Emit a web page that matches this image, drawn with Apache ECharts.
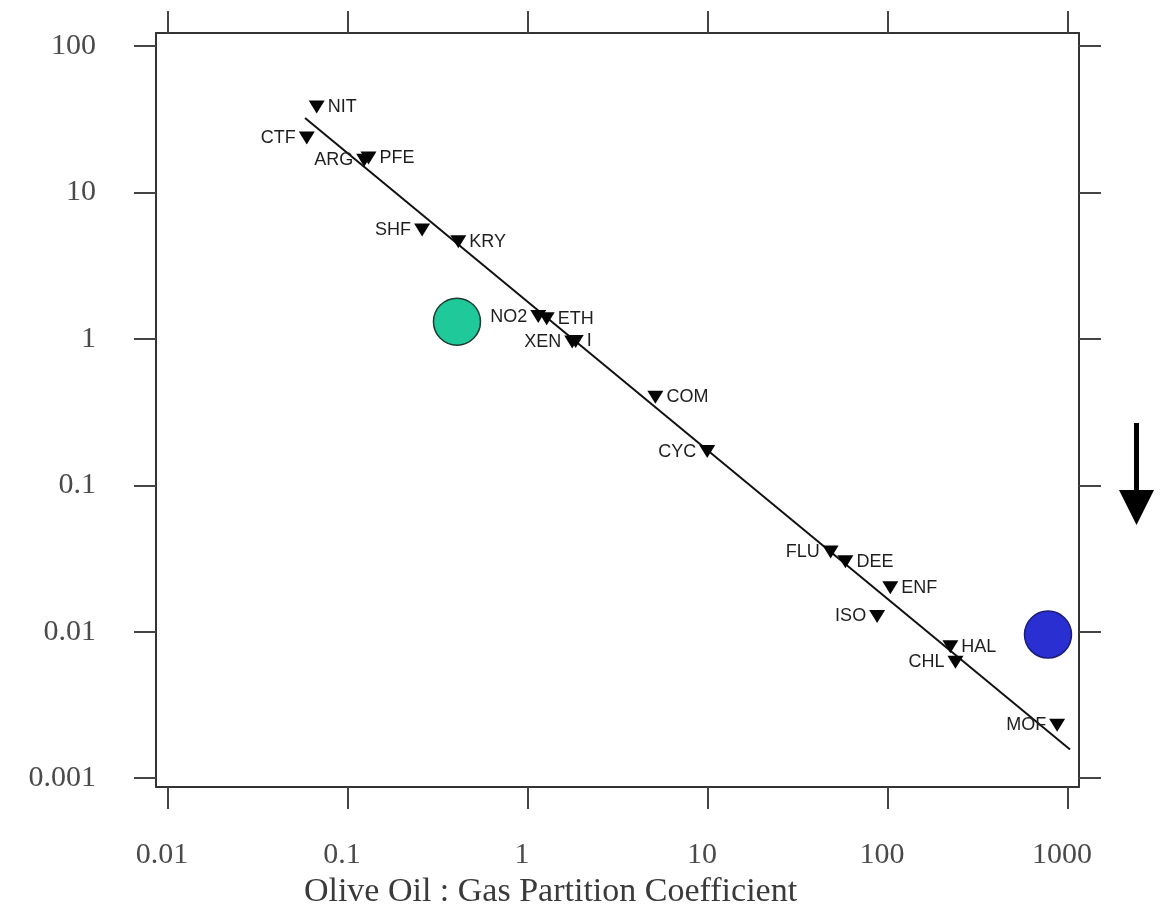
<!DOCTYPE html>
<html>
<head>
<meta charset="utf-8">
<script src="https://cdn.jsdelivr.net/npm/echarts@6/dist/echarts.min.js"></script>
<style>
  html, body { margin: 0; padding: 0; background: #ffffff; }
  #chart { width: 1160px; height: 914px; }
</style>
</head>
<body>
<div id="chart"></div>
<script>
// ---- data ----
const agentNames = ['NIT','CTF','ARG','PFE','SHF','KRY','NO2','ETH','XEN','I','COM','CYC','FLU','DEE','ENF','ISO','HAL','CHL','MOF'];
const oilGas     = [0.067, 0.059, 0.123, 0.130, 0.258, 0.41, 1.14, 1.27, 1.76, 1.84, 5.1, 9.9, 48, 58, 103, 87, 222, 237, 870];
const potency    = [38.3, 23.5, 16.6, 17.2, 5.54, 4.6, 1.42, 1.37, 0.95, 0.96, 0.40, 0.17, 0.035, 0.030, 0.020, 0.0127, 0.0079, 0.0062, 0.0023];
const labelOnLeft = ['CTF','ARG','SHF','NO2','XEN','CYC','FLU','ISO','CHL','MOF'];

const fitX = [0.0577, 1026];
const fitY = [32.2, 0.00157];

const greenPoint = [0.403, 1.31];
const bluePoint  = [774, 0.00957];

const xTickValues = [0.01, 0.1, 1, 10, 100, 1000];
const xTickLabels = ['0.01', '0.1', '1', '10', '100', '1000'];
const yTickValues = [0.001, 0.01, 0.1, 1, 10, 100];
const yTickLabels = ['0.001', '0.01', '0.1', '1', '10', '100'];

const xTitle = 'Olive Oil : Gas Partition Coefficient';

// ---- build ----
const L = Math.log10;
const xTickPos = xTickValues.map(L);
const yTickPos = yTickValues.map(L);
function xFmt(v) { const i = xTickPos.findIndex(p => Math.abs(p - v) < 1e-6); return i >= 0 ? xTickLabels[i] : ''; }
function yFmt(v) { const i = yTickPos.findIndex(p => Math.abs(p - v) < 1e-6); return i >= 0 ? yTickLabels[i] : ''; }

const XMIN = -2.0667, XMAX = 3.061, YMIN = -3.061, YMAX = 2.0886;

const frameLine = { show: true, onZero: false, lineStyle: { color: '#333', width: 2 } };
const tickStyle = { show: true, inside: false, length: 22, lineStyle: { color: '#444', width: 2 } };
const serifLabel = { fontFamily: 'Liberation Serif', fontSize: 30, color: '#4a4a4a' };

const triData = agentNames.map((n, i) => ({
  name: n,
  value: [L(oilGas[i]), L(potency[i])],
  label: { position: labelOnLeft.includes(n) ? 'left' : 'right' }
}));

const option = {
  backgroundColor: '#ffffff',
  animation: false,
  grid: { left: 156, right: 81, top: 33, bottom: 126, containLabel: false },
  xAxis: [
    {
      type: 'value', position: 'bottom', min: XMIN, max: XMAX,
      axisLine: frameLine,
      axisTick: Object.assign({ customValues: xTickPos }, tickStyle),
      axisLabel: Object.assign({ customValues: xTickPos, formatter: xFmt, margin: 53, padding: [0, 12, 0, 0] }, serifLabel),
      splitLine: { show: false },
      name: xTitle, nameLocation: 'middle', nameGap: 82,
      nameTextStyle: { fontFamily: 'Liberation Serif', fontSize: 34, color: '#3a3a3a', padding: [0, 134, 0, 0] }
    },
    {
      type: 'value', position: 'top', min: XMIN, max: XMAX,
      axisLine: frameLine,
      axisTick: Object.assign({ customValues: xTickPos }, tickStyle),
      axisLabel: { show: false },
      splitLine: { show: false }
    }
  ],
  yAxis: [
    {
      type: 'value', position: 'left', min: YMIN, max: YMAX,
      axisLine: frameLine,
      axisTick: Object.assign({ customValues: yTickPos }, tickStyle),
      axisLabel: Object.assign({ customValues: yTickPos, formatter: yFmt, margin: 60 }, serifLabel),
      splitLine: { show: false }
    },
    {
      type: 'value', position: 'right', min: YMIN, max: YMAX,
      axisLine: frameLine,
      axisTick: Object.assign({ customValues: yTickPos }, tickStyle),
      axisLabel: { show: false },
      splitLine: { show: false }
    }
  ],
  series: [
    {
      type: 'line', name: 'fit', xAxisIndex: 0, yAxisIndex: 0,
      data: fitX.map((x, i) => [L(x), L(fitY[i])]),
      symbol: 'none', lineStyle: { color: '#111', width: 2 }, z: 2
    },
    {
      type: 'scatter', name: 'agents', xAxisIndex: 0, yAxisIndex: 0,
      data: triData,
      symbol: 'triangle', symbolRotate: 180, symbolSize: [16, 13],
      itemStyle: { color: '#050505', opacity: 1 },
      label: {
        show: true, formatter: '{b}', distance: 3,
        fontFamily: 'Liberation Sans', fontSize: 18, color: '#1e1e1e'
      },
      z: 4
    },
    {
      type: 'scatter', name: 'green', xAxisIndex: 0, yAxisIndex: 0,
      data: [[L(greenPoint[0]), L(greenPoint[1])]],
      symbol: 'circle', symbolSize: 47,
      itemStyle: { color: '#1fc99a', borderColor: '#1d3b30', borderWidth: 1.5, opacity: 1 },
      z: 3
    },
    {
      type: 'scatter', name: 'blue', xAxisIndex: 0, yAxisIndex: 0,
      data: [[L(bluePoint[0]), L(bluePoint[1])]],
      symbol: 'circle', symbolSize: 47,
      itemStyle: { color: '#2a2fd2', borderColor: '#1a1c7a', borderWidth: 1.5, opacity: 1 },
      z: 3
    }
  ],
  graphic: [
    {
      type: 'group',
      children: [
        { type: 'rect', shape: { x: 1134, y: 423, width: 5, height: 70 }, style: { fill: '#000' } },
        { type: 'polygon', shape: { points: [[1119, 490], [1154, 490], [1136.5, 525]] }, style: { fill: '#000' } }
      ]
    }
  ]
};

const chart = echarts.init(document.getElementById('chart'), null, { renderer: 'canvas' });
chart.setOption(option);
</script>
</body>
</html>
